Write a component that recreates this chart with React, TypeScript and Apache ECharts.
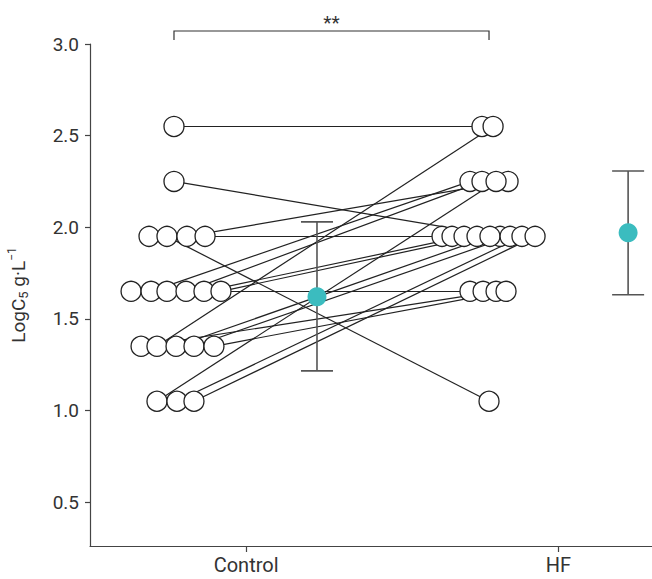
import React, { useEffect, useRef } from "react";
import * as echarts from "echarts";

const categories = ["Control", "HF"];
const categoryPos = [1, 3];
const yTicks = [0.5, 1.0, 1.5, 2.0, 2.5, 3.0];

// paired observations (index i in control is linked to index i in HF); x = jittered position
const controlX = [0.538, 0.538, 0.378, 0.493, 0.621, 0.737, 0.263, 0.391, 0.493, 0.615, 0.730, 0.839, 0.327, 0.429, 0.551, 0.666, 0.794, 0.429, 0.557, 0.666];
const controlY = [2.55, 2.25, 1.95, 1.95, 1.95, 1.95, 1.65, 1.65, 1.65, 1.65, 1.65, 1.65, 1.35, 1.35, 1.35, 1.35, 1.35, 1.05, 1.05, 1.05];
const hfX = [2.511, 2.627, 2.255, 2.556, 2.678, 2.319, 2.434, 2.434, 2.518, 2.511, 2.396, 2.479, 2.601, 2.582, 2.562, 2.691, 2.665, 2.601, 2.767, 2.851];
const hfY = [2.55, 1.95, 1.95, 1.05, 2.25, 1.95, 1.65, 2.25, 1.65, 2.25, 1.95, 1.95, 1.65, 2.55, 1.95, 1.95, 1.65, 2.25, 1.95, 1.95];

// group means with error bars
const meanX = [1.454, 3.447];
const meanY = [1.62, 1.97];
const errLow = [1.216, 1.631];
const errHigh = [2.029, 2.307];

// significance bracket
const sigFrom = 0.538;
const sigTo = 2.556;
const sigY = 3.071;
const sigLabel = "**";

const FONT = "Roboto, 'DejaVu Sans', sans-serif";
const TXT = "#333";
const AX = "#444";

export default function App() {
  const ref = useRef<HTMLDivElement>(null);
  useEffect(() => {
    if (!ref.current) return;
    const chart = echarts.init(ref.current, undefined, { renderer: "svg" });
    const option: any = {
      animation: false,
      backgroundColor: "#fff",
      grid: { left: 90, right: 0, top: 44, bottom: 33, outerBoundsMode: "none" },
      xAxis: {
        type: "value",
        min: 0,
        max: 3.6,
        splitLine: { show: false },
        axisLine: { show: true, lineStyle: { color: AX, width: 1.2 } },
        axisTick: { show: true, customValues: categoryPos, length: 6, lineStyle: { color: AX, width: 1.2 } },
        axisLabel: {
          show: true,
          customValues: categoryPos,
          formatter: (v: number) => categories[categoryPos.indexOf(Math.round(v))] ?? "",
          fontFamily: FONT,
          fontSize: 20,
          color: TXT,
          margin: 9,
        },
      },
      yAxis: {
        type: "value",
        min: 0.26,
        max: 3.0,
        splitLine: { show: false },
        axisLine: { show: true, lineStyle: { color: AX, width: 1.2 } },
        axisTick: { show: true, customValues: yTicks, length: 5, lineStyle: { color: AX, width: 1.2 } },
        axisLabel: {
          show: true,
          customValues: yTicks,
          formatter: (v: number) => v.toFixed(1),
          fontFamily: FONT,
          fontSize: 19,
          color: TXT,
          margin: 11,
        },
        name: "{a|LogC}{sub|5}{a| g·L}{sup|−1}",
        nameLocation: "middle",
        nameRotate: 90,
        nameGap: 60,
        nameTextStyle: {
          rich: {
            a: { fontFamily: FONT, fontSize: 19, color: TXT, lineHeight: 24, verticalAlign: "middle" },
            sub: { fontFamily: FONT, fontSize: 13, color: TXT, lineHeight: 13, verticalAlign: "bottom", padding: [9, 0, 0, 0] },
            sup: { fontFamily: FONT, fontSize: 12, color: TXT, lineHeight: 12, verticalAlign: "top", padding: [0, 0, 7, 0] },
          },
        },
      },
      series: [
        {
          type: "lines",
          coordinateSystem: "cartesian2d",
          z: 1,
          silent: true,
          lineStyle: { color: "#222", width: 1.2, opacity: 1 },
          data: controlX.map((cx, i) => ({ coords: [[cx, controlY[i]], [hfX[i], hfY[i]]] })),
        },
        {
          type: "scatter",
          z: 3,
          symbol: "circle",
          symbolSize: 20,
          itemStyle: { color: "#fff", borderColor: "#222", borderWidth: 1.3, opacity: 1 },
          data: controlX.map((x, i) => [x, controlY[i]]),
        },
        {
          type: "scatter",
          z: 3,
          symbol: "circle",
          symbolSize: 20,
          itemStyle: { color: "#fff", borderColor: "#222", borderWidth: 1.3, opacity: 1 },
          data: hfX.map((x, i) => [x, hfY[i]]),
        },
        {
          type: "custom",
          z: 4,
          data: meanX.map((x, i) => [x, errLow[i], errHigh[i]]),
          renderItem: (params: any, api: any) => {
            const x = api.value(0);
            const top = api.coord([x, api.value(2)]);
            const bot = api.coord([x, api.value(1)]);
            const hw = 16;
            const st = { stroke: "#555", lineWidth: 1.6 };
            return {
              type: "group",
              children: [
                { type: "line", shape: { x1: top[0], y1: top[1], x2: bot[0], y2: bot[1] }, style: st },
                { type: "line", shape: { x1: top[0] - hw, y1: top[1], x2: top[0] + hw, y2: top[1] }, style: st },
                { type: "line", shape: { x1: bot[0] - hw, y1: bot[1], x2: bot[0] + hw, y2: bot[1] }, style: st },
              ],
            };
          },
        },
        {
          type: "scatter",
          z: 5,
          symbol: "circle",
          symbolSize: 19,
          itemStyle: { color: "#3bbcbf", opacity: 1 },
          data: meanX.map((x, i) => [x, meanY[i]]),
        },
      ],
    };
    chart.setOption(option);

    const p1 = chart.convertToPixel({ gridIndex: 0 }, [sigFrom, sigY]) as number[];
    const p2 = chart.convertToPixel({ gridIndex: 0 }, [sigTo, sigY]) as number[];
    const drop = 9;
    chart.setOption({
      graphic: [
        {
          type: "polyline",
          shape: { points: [[p1[0], p1[1] + drop], [p1[0], p1[1]], [p2[0], p2[1]], [p2[0], p2[1] + drop]] },
          style: { stroke: "#333", lineWidth: 1.2, fill: "none" },
        },
        {
          type: "text",
          x: (p1[0] + p2[0]) / 2,
          y: p1[1] + 1,
          style: { text: sigLabel, fontFamily: FONT, fontSize: 19, fill: TXT, align: "center", verticalAlign: "bottom" },
        },
      ],
    });

    return () => chart.dispose();
  }, []);
  return <div ref={ref} style={{ position: "fixed", left: 0, top: 0, width: 652, height: 579 }} />;
}
